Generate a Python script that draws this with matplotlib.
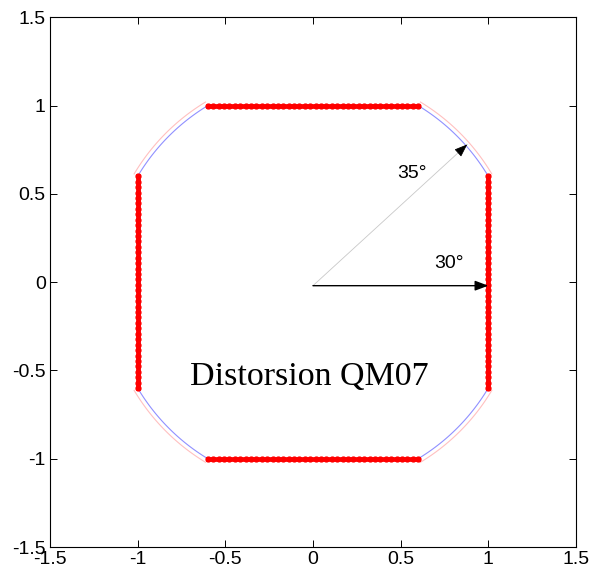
import numpy as np
import matplotlib.pyplot as plt

# straight pole faces (red dotted lines)
face_t = np.linspace(-0.6, 0.6, 40)
face_pos = 1.0

# blue contour: arcs between the faces
arc_r = 1.166
arc_ang = np.linspace(31.0, 59.0, 40)
# pink distorted contour slightly outside
pink_r = 1.19

origin = (0.0, -0.02)
tip30 = (1.0, -0.02)
tip35 = (0.88, 0.78)
label30 = (0.69, 0.08)
label35 = (0.48, 0.59)

ticks = [-1.5, -1, -0.5, 0, 0.5, 1, 1.5]
ticklabels = ['-1.5', '-1', '-0.5', '0', '0.5', '1', '1.5']

fig = plt.figure(figsize=(5.95, 5.76), dpi=100)
ax = fig.add_axes([0.084, 0.0503, 0.884, 0.9197])

# blue contour arcs and pink distorted contour
for q in range(4):
    a = np.radians(arc_ang + 90 * q)
    ax.plot(arc_r * np.cos(a), arc_r * np.sin(a), color='#9090ff', lw=0.8)
    ax.plot(pink_r * np.cos(a), pink_r * np.sin(a), color='#ffc0c0', lw=0.8)

# thin lines under the faces
ax.plot(face_t, face_pos * np.ones_like(face_t) - 0.005, color='#9090ff', lw=0.7)
ax.plot(face_t, -face_pos * np.ones_like(face_t) + 0.005, color='#9090ff', lw=0.7)
ax.plot(face_pos * np.ones_like(face_t) - 0.012, face_t, color='#9090ff', lw=0.7)
ax.plot(-face_pos * np.ones_like(face_t) + 0.012, face_t, color='#9090ff', lw=0.7)

# red faces
for xs, ys in [(face_t, face_pos * np.ones_like(face_t)),
               (face_t, -face_pos * np.ones_like(face_t)),
               (face_pos * np.ones_like(face_t), face_t),
               (-face_pos * np.ones_like(face_t), face_t)]:
    ax.plot(xs, ys, color='red', lw=3.4, marker='.', ms=7)

# arrows
ax.annotate('', xy=tip30, xytext=origin,
            arrowprops=dict(arrowstyle='-|>,head_length=0.8,head_width=0.3',
                            color='black', lw=1, shrinkA=0, shrinkB=0))
ax.plot([origin[0], tip35[0]], [origin[1], tip35[1]], color='#c8c8c8', lw=0.6)
d = np.array(tip35) - np.array(origin)
d = d / np.hypot(*d)
ax.annotate('', xy=tip35, xytext=(tip35[0] - 0.06 * d[0], tip35[1] - 0.06 * d[1]),
            arrowprops=dict(arrowstyle='-|>,head_length=0.8,head_width=0.3',
                            color='black', lw=0.6, shrinkA=0, shrinkB=0))

ax.text(label30[0], label30[1], '30°', fontsize=14, family='Liberation Sans')
ax.text(label35[0], label35[1], '35°', fontsize=14, family='Liberation Sans')
ax.text(-0.02, -0.58, 'Distorsion QM07', fontsize=24.5, family='Liberation Serif',
        ha='center', va='baseline')

ax.set_xlim(-1.5, 1.5)
ax.set_ylim(-1.5, 1.5)
ax.set_xticks(ticks)
ax.set_yticks(ticks)
ax.set_xticklabels(ticklabels, family='Liberation Sans', fontsize=14)
ax.set_yticklabels(ticklabels, family='Liberation Sans', fontsize=14)
ax.tick_params(direction='in', top=True, right=True, length=5, width=0.7, pad=3)
for s in ax.spines.values():
    s.set_linewidth(0.8)

plt.savefig('out.png', dpi=100)
